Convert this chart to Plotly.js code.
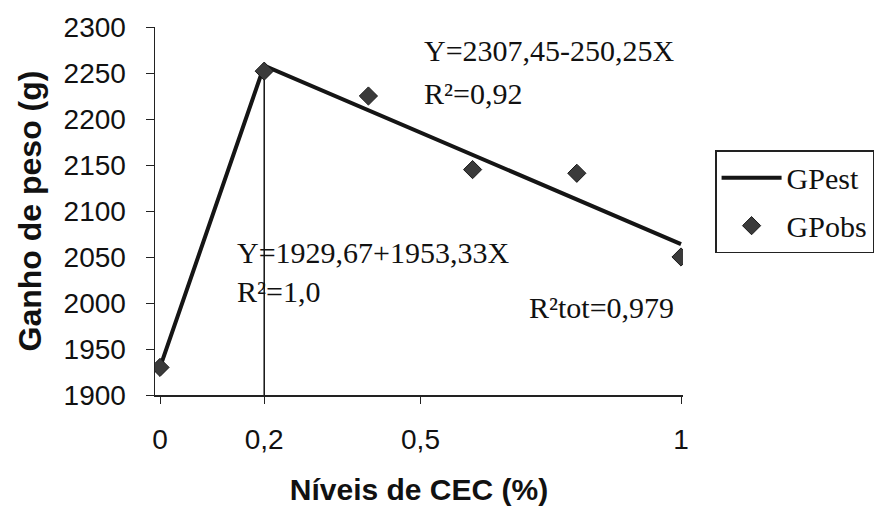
<!DOCTYPE html>
<html>
<head>
<meta charset="utf-8">
<script src="https://cdn.plot.ly/plotly-3.0.1.min.js"></script>
<style>html,body{margin:0;padding:0;background:#fff;}#chart{width:885px;height:509px;}</style>
</head>
<body>
<div id="chart"></div>
<script>
// Data
var obsX = [0, 0.2, 0.4, 0.6, 0.8, 1.0];
var obsY = [1930, 2252, 2225, 2145, 2141, 2050];
var estX = [0, 0.2, 1.0];
var estY = [1930, 2258, 2064];
var vlineX = [0.2, 0.2];
var vlineY = [1900, 2258];
var xTickVals = [0, 0.2, 0.5, 1];
var xTickText = ['0', '0,2', '0,5', '1'];
var yTickVals = [1900, 1950, 2000, 2050, 2100, 2150, 2200, 2250, 2300];
var annText = ['Y=2307,45-250,25X', 'R²=0,92', 'Y=1929,67+1953,33X', 'R²=1,0', 'R²tot=0,979'];
var annX = [0.502, 0.502, 0.143, 0.143, 0.704];
var annY = [2275, 2228, 2055, 2012, 1995];

var serif = 'Liberation Serif, Times New Roman, serif';
var sans = 'Liberation Sans, Arial, sans-serif';

var traces = [
  {x: vlineX, y: vlineY, mode: 'lines', line: {color: '#111', width: 1.5}, showlegend: false, hoverinfo: 'skip'},
  {x: estX, y: estY, mode: 'lines', name: 'GPest', legendgroup: 'a', line: {color: '#151515', width: 4}},
  {x: obsX, y: obsY, mode: 'markers', name: 'GPobs', legendgroup: 'b',
   marker: {symbol: 'diamond', size: 14, color: '#3a3a3a', line: {color: '#1a1a1a', width: 1}}}
];

var annotations = annText.map(function(t, i){
  return {x: annX[i], y: annY[i], xref: 'x', yref: 'y', text: t, showarrow: false,
          xanchor: 'left', yanchor: 'middle', font: {family: serif, size: 30, color: '#111'}};
});

var layout = {
  width: 885, height: 509,
  margin: {l: 155, r: 202, t: 27, b: 114, autoexpand: false},
  paper_bgcolor: '#fff', plot_bgcolor: '#fff',
  font: {family: sans, color: '#111'},
  xaxis: {
    range: [-0.0096, 1.0038], showgrid: false, zeroline: false,
    showline: true, linecolor: '#222', linewidth: 1.5,
    tickvals: xTickVals, ticktext: xTickText,
    ticks: 'outside', ticklen: 7, tickcolor: '#222',
    ticklabelstandoff: 12,
    tickfont: {family: sans, size: 28, color: '#111'},
    title: {text: '<b>Níveis de CEC (%)</b>', font: {family: sans, size: 30, color: '#111'}, standoff: 25}
  },
  yaxis: {
    range: [1900, 2300], showgrid: false, zeroline: false,
    showline: true, linecolor: '#222', linewidth: 1.5,
    tickvals: yTickVals,
    ticks: 'outside', ticklen: 8, tickcolor: '#222',
    ticklabelstandoff: 14,
    tickfont: {family: sans, size: 28, color: '#111'},
    title: {text: '<b>Ganho de peso (g)</b>', font: {family: sans, size: 32, color: '#111'}, standoff: 12}
  },
  legend: {
    xref: 'container', yref: 'container',
    x: 0.808, y: 0.705, xanchor: 'left', yanchor: 'top',
    bordercolor: '#222', borderwidth: 1.5, bgcolor: '#fff',
    font: {family: serif, size: 30, color: '#111'},
    tracegroupgap: 6, itemwidth: 60
  },
  annotations: annotations,
  showlegend: true
};

Plotly.newPlot('chart', traces, layout, {displayModeBar: false, staticPlot: true});
</script>
</body>
</html>
